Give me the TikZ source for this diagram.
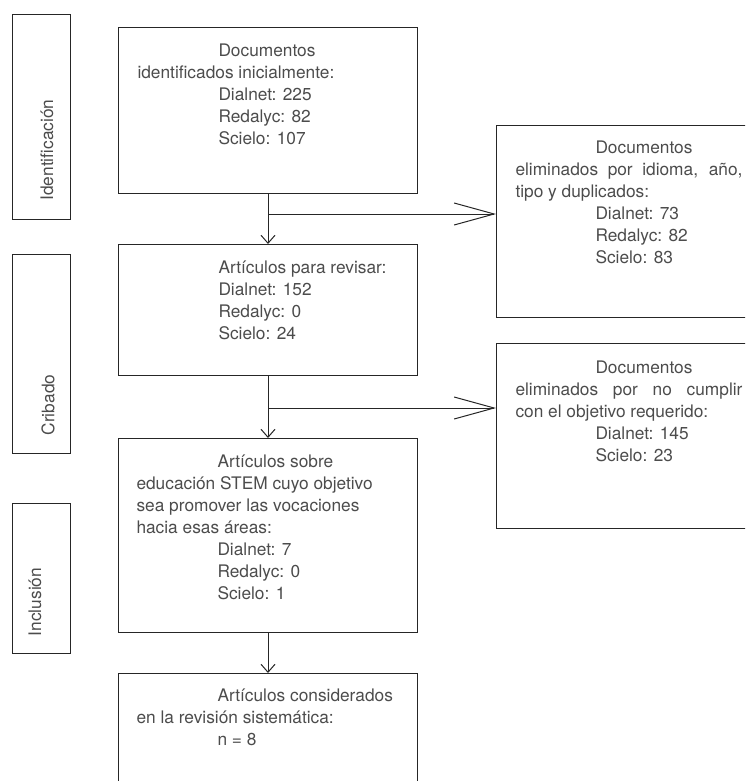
\documentclass[tikz,border=0pt]{standalone}
\usepackage{fontspec}
\setmainfont{TeX Gyre Heros}
\usetikzlibrary{arrows.meta}
\tikzset{
  stage/.style={draw, rectangle, anchor=north west, minimum width=58pt, inner sep=0pt},
  box/.style={draw, rectangle, anchor=north west, inner sep=0pt},
  txt/.style={anchor=north west, align=left, inner sep=0pt, text=black!70,
    font=\fontsize{17.3}{22}\selectfont},
  stagetxt/.style={rotate=90, inner sep=0pt, text=black!70,
    font=\fontsize{17.3}{22}\selectfont},
  vtip/.style={-{Straight Barb[length=8pt,width=14pt]}},
  htip/.style={-{Straight Barb[length=40pt,width=22pt]}}
}
\newcommand{\ind}{\hspace*{81pt}}

\begin{document}
\begin{tikzpicture}[x=1pt, y=-1pt, line width=1pt, draw=black!85]
  \path[use as bounding box, clip] (0,0) rectangle (745,781);

  % Stage boxes on the left
  \foreach \name/\top/\high/\tx/\ty/\lab in {
      sid/14/205/47/150/Identificación,
      scr/254/199/48/405/Cribado,
      sin/503/150/35/602/Inclusión}{
    \node[stage, minimum height=\high pt] (\name) at (12,\top) {};
    \node[stagetxt] (\name t) at (\tx,\ty) {\lab};
  }

  % Main column
  \node[box, minimum width=299pt, minimum height=166pt] (b1) at (118,27) {};
  \node[box, minimum width=299pt, minimum height=131pt] (b2) at (118,244) {};
  \node[box, minimum width=299pt, minimum height=194pt] (b3) at (118,438) {};
  \node[box, minimum width=299pt, minimum height=140pt] (b4) at (118,673) {};

  \node[txt] (b1t) at (137,43.6) {\ind Documentos\\
    identificados inicialmente:\\
    \ind Dialnet: 225\\ \ind Redalyc: 82\\ \ind Scielo: 107};
  \node[txt] (b2t) at (218,260.6) {Artículos para revisar:\\
    Dialnet: 152\\ Redalyc: 0\\ Scielo: 24};
  \node[txt] (b3t) at (136,454.6) {\ind Artículos sobre\\
    educación STEM cuyo objetivo\\
    sea promover las vocaciones\\
    hacia esas áreas:\\
    \ind Dialnet: 7\\ \ind Redalyc: 0\\ \ind Scielo: 1};
  \node[txt] (b4t) at (136,688.6) {\ind Artículos considerados\\
    en la revisión sistemática:\\
    \ind n = 8};

  % Excluded records
  \node[box, minimum width=270pt, minimum height=192pt] (r1) at (496,125) {};
  \node[box, minimum width=270pt, minimum height=185pt] (r2) at (496,343) {};

  \node[txt] (r1t) at (515,140.6) {\hspace*{80pt}Documentos\\
    \makebox[227pt][s]{eliminados por idioma, año,}\\
    tipo y duplicados:\\
    \hspace*{80pt}Dialnet: 73\\ \hspace*{80pt}Redalyc: 82\\ \hspace*{80pt}Scielo: 83};
  \node[txt] (r2t) at (515,360.6) {\hspace*{80pt}Documentos\\
    \makebox[227pt][s]{eliminados por no cumplir}\\
    con el objetivo requerido:\\
    \hspace*{80pt}Dialnet: 145\\ \hspace*{80pt}Scielo: 23};

  % Flow arrows
  \coordinate (j1) at ([yshift=-20pt]b1.south);
  \coordinate (j2) at ([yshift=-32pt]b2.south);
  \draw[vtip] (b1.south) -- (b2.north);
  \draw[vtip] (b2.south) -- (b3.north);
  \draw[vtip] (b3.south) -- (b4.north);
  \draw[htip] (j1) -- (j1 -| r1.west);
  \draw[htip] (j2) -- (j2 -| r2.west);
\end{tikzpicture}
\end{document}
